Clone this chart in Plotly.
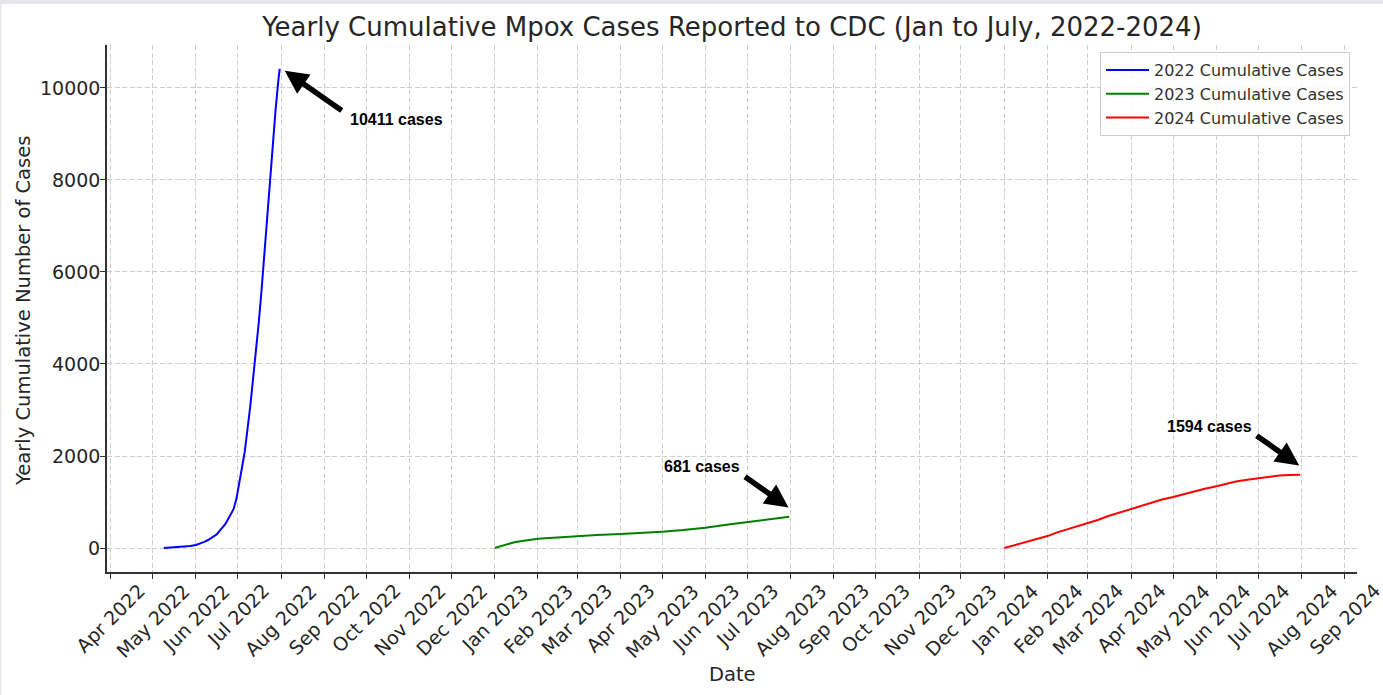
import plotly.graph_objects as go
import pandas as pd

# ---------------- data ----------------
dates_2022 = ["2022-05-09", "2022-05-14", "2022-05-19", "2022-05-24", "2022-05-28",
              "2022-06-01", "2022-06-04", "2022-06-07", "2022-06-10", "2022-06-13",
              "2022-06-16", "2022-06-19", "2022-06-22", "2022-06-25", "2022-06-28",
              "2022-06-30", "2022-07-02", "2022-07-04", "2022-07-06", "2022-07-08",
              "2022-07-10", "2022-07-12", "2022-07-14", "2022-07-16", "2022-07-18",
              "2022-07-20", "2022-07-22", "2022-07-24", "2022-07-26", "2022-07-28",
              "2022-07-30", "2022-07-31"]
cases_2022 = [0, 8, 18, 30, 45,
              65, 95, 135, 180, 235,
              300, 410, 520, 680, 850,
              1070, 1380, 1750, 2100, 2550,
              3100, 3700, 4250, 4900, 5600,
              6400, 7200, 7950, 8750, 9500,
              10150, 10411]

dates_2023 = ["2023-01-01", "2023-01-08", "2023-01-15", "2023-01-23", "2023-02-01",
              "2023-02-15", "2023-03-01", "2023-03-15", "2023-04-01", "2023-04-15",
              "2023-05-01", "2023-05-16", "2023-06-01", "2023-06-16", "2023-07-01",
              "2023-07-16", "2023-07-31"]
cases_2023 = [0, 70, 125, 165, 200,
              230, 260, 285, 305, 325,
              355, 390, 440, 505, 565,
              625, 681]

dates_2024 = ["2024-01-01", "2024-01-08", "2024-01-15", "2024-01-23", "2024-02-01",
              "2024-02-08", "2024-02-15", "2024-02-22", "2024-03-01", "2024-03-08",
              "2024-03-15", "2024-03-23", "2024-04-01", "2024-04-08", "2024-04-15",
              "2024-04-23", "2024-05-01", "2024-05-08", "2024-05-15", "2024-05-23",
              "2024-06-01", "2024-06-08", "2024-06-15", "2024-06-23", "2024-07-01",
              "2024-07-09", "2024-07-16", "2024-07-23", "2024-07-31"]
cases_2024 = [0, 60, 125, 195, 260,
              340, 405, 460, 530, 610,
              690, 765, 835, 900, 980,
              1055, 1110, 1170, 1230, 1285,
              1345, 1395, 1445, 1485, 1520,
              1555, 1575, 1590, 1594]

series_names = ["2022 Cumulative Cases", "2023 Cumulative Cases", "2024 Cumulative Cases"]
series_colors = ["#0000ff", "#008000", "#ff0000"]

tick_dates = pd.date_range("2022-04-01", "2024-09-01", freq="MS")
tick_labels = [d.strftime("%b %Y") for d in tick_dates]
y_tick_values = [0, 2000, 4000, 6000, 8000, 10000]
y_tick_labels = [str(v) for v in y_tick_values]

# ---------------- layout constants ----------------
W, H = 1383, 695
ML, MR, MT, MB = 107, 26, 45, 123
PW, PH = W - ML - MR, H - MT - MB
TEXT = "#262626"
FONT = "DejaVu Sans"
TICK_SIZE = 19

all_dates = [dates_2022, dates_2023, dates_2024]
all_cases = [cases_2022, cases_2023, cases_2024]

fig = go.Figure()
for d, c, name, col in zip(all_dates, all_cases, series_names, series_colors):
    fig.add_trace(go.Scatter(x=d, y=c, mode="lines", name=name,
                             line=dict(color=col, width=2)))

# x range like matplotlib's 5% margins
x0 = pd.Timestamp(dates_2022[0])
x1 = pd.Timestamp(dates_2024[-1])
span = x1 - x0
xr = [x0 - span * 0.05, x1 + span * 0.05]
ymax = max(max(c) for c in all_cases)
yr = [-0.05 * ymax, ymax * 1.05]

grid_dash = "5px,2.5px"
fig.update_xaxes(
    range=[xr[0].strftime("%Y-%m-%d %H:%M"), xr[1].strftime("%Y-%m-%d %H:%M")],
    tickmode="array", tickvals=[d.strftime("%Y-%m-%d") for d in tick_dates],
    showticklabels=False,
    ticks="outside", ticklen=5, tickwidth=1.3, tickcolor="#333333",
    showline=True, linecolor="#333333", linewidth=1.5, mirror=False,
    showgrid=True, gridcolor="#cfcfcf", gridwidth=1, griddash=grid_dash,
    zeroline=False,
)
fig.update_yaxes(
    range=yr, tickmode="array", tickvals=y_tick_values,
    showticklabels=False,
    ticks="outside", ticklen=5, tickwidth=1.3, tickcolor="#333333",
    showline=True, linecolor="#333333", linewidth=1.5, mirror=False,
    showgrid=True, gridcolor="#cfcfcf", gridwidth=1, griddash=grid_dash,
    zeroline=False,
)

annotations = []
# rotated x tick labels, centered on the tick like matplotlib rotation=45
for d, lab in zip(tick_dates, tick_labels):
    annotations.append(dict(
        x=d.strftime("%Y-%m-%d"), y=0, xref="x", yref="paper",
        text=lab, showarrow=False, textangle=-45,
        xanchor="center", yanchor="top", yshift=-5,
        font=dict(family=FONT, size=TICK_SIZE, color=TEXT),
    ))
# y tick labels placed close to the tick marks
for v, lab in zip(y_tick_values, y_tick_labels):
    annotations.append(dict(
        x=0, y=v, xref="paper", yref="y", text=lab, showarrow=False,
        xanchor="right", yanchor="middle", xshift=-5,
        font=dict(family=FONT, size=TICK_SIZE, color=TEXT),
    ))

# axis titles
annotations.append(dict(x=0.5, y=-(675 - (MT + PH)) / PH, xref="paper", yref="paper",
                        text="Date", showarrow=False, xanchor="center", yanchor="middle",
                        font=dict(family=FONT, size=19.5, color=TEXT)))
annotations.append(dict(x=(23.5 - ML) / PW, y=(MT + PH - 311.5) / PH, xref="paper", yref="paper",
                        text="Yearly Cumulative Number of Cases", showarrow=False,
                        textangle=-90, xanchor="center", yanchor="middle",
                        font=dict(family=FONT, size=19.5, color=TEXT)))

# callout arrows & labels (offsets in pixels from the final point of each series)
arrow_shift = [(5.0, -1.8), (-0.7, 9.3), (-1.0, 9.3)]
arrow_tail = [(58.5, 40.8), (-45.0, -31.7), (-44.0, -30.7)]
label_shift = [(117, -50.3), (-87.5, 50.0), (-90.7, 48.3)]
for d, c, sh, tl, ls in zip(all_dates, all_cases, arrow_shift, arrow_tail, label_shift):
    annotations.append(dict(
        x=d[-1], y=c[-1], xref="x", yref="y", text="", showarrow=True,
        ax=tl[0], ay=tl[1], xshift=sh[0], yshift=sh[1],
        arrowhead=2, arrowsize=0.85, arrowwidth=5.5, arrowcolor="black", standoff=0,
    ))
    annotations.append(dict(
        x=d[-1], y=c[-1], xref="x", yref="y", text=f"<b>{c[-1]} cases</b>",
        showarrow=False, xshift=ls[0], yshift=ls[1],
        xanchor="center", yanchor="middle",
        font=dict(family="Liberation Sans", size=16, color="black"),
    ))

# light grey frame at the top / left edges of the picture
shapes = [
    dict(type="rect", xref="paper", yref="paper", layer="above",
         x0=-ML / PW, x1=(W - ML) / PW, y0=(MT + PH - 4) / PH, y1=(MT + PH) / PH,
         fillcolor="#e5e7eb", line=dict(width=0)),
    dict(type="rect", xref="paper", yref="paper", layer="above",
         x0=-ML / PW, x1=(-ML + 1.5) / PW, y0=-MB / PH, y1=(MT + PH) / PH,
         fillcolor="#e5e7eb", line=dict(width=0)),
]

fig.update_layout(
    width=W, height=H,
    margin=dict(l=ML, r=MR, t=MT, b=MB, autoexpand=False),
    paper_bgcolor="white", plot_bgcolor="white",
    title=dict(text="Yearly Cumulative Mpox Cases Reported to CDC (Jan to July, 2022-2024)",
               x=0.5, xref="paper", xanchor="center",
               y=1 - 27 / H, yanchor="middle",
               font=dict(family=FONT, size=26, color=TEXT)),
    legend=dict(x=1 - 7 / PW, y=1 - 7 / PH, xanchor="right", yanchor="top",
                bgcolor="rgba(255,255,255,0.85)", bordercolor="#cccccc", borderwidth=1,
                itemwidth=43,
                font=dict(family=FONT, size=16, color="#333333")),
    annotations=annotations,
    shapes=shapes,
    showlegend=True,
)

fig.write_html(
    "out.html",
    config={"displayModeBar": False},
    post_script="document.body.style.margin='0';document.body.style.overflow='hidden';",
)
